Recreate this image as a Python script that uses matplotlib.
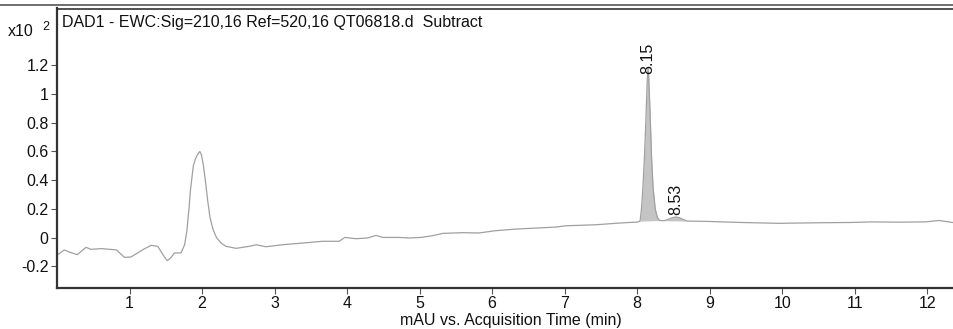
import matplotlib
matplotlib.use("Agg")
import matplotlib.pyplot as plt
import numpy as np
from matplotlib.lines import Line2D

plt.rcParams['font.family'] = ['Liberation Sans', 'DejaVu Sans']

# chromatogram trace (time in min, signal in x10^2 mAU)
time = [0.01, 0.10, 0.17, 0.28, 0.40, 0.47, 0.61, 0.82, 0.93, 1.02, 1.21, 1.30, 1.39,
        1.46, 1.52, 1.57, 1.62, 1.71, 1.76, 1.79, 1.82, 1.84, 1.88, 1.91, 1.94, 1.97,
        1.99, 2.02, 2.05, 2.08, 2.11, 2.15, 2.20, 2.27, 2.33, 2.47, 2.65, 2.75, 2.88,
        3.11, 3.39, 3.66, 3.89, 3.97, 4.12,
        4.28, 4.40, 4.49, 4.72, 4.86, 5.02, 5.18, 5.32, 5.59, 5.82, 6.05, 6.33, 6.60,
        6.88, 7.02, 7.43, 7.70, 7.89, 8.00, 8.04, 8.06, 8.08, 8.10, 8.12, 8.14, 8.15,
        8.16, 8.18, 8.20, 8.22, 8.25, 8.28, 8.31, 8.37, 8.43, 8.48, 8.53, 8.58, 8.63,
        8.69, 8.99, 9.44, 9.95, 10.50, 10.96, 11.23, 11.60, 11.98, 12.16, 12.35]
signal = [-0.118, -0.085, -0.100, -0.118, -0.067, -0.081, -0.076, -0.085, -0.137, -0.134,
          -0.076, -0.053, -0.060, -0.118, -0.160, -0.140, -0.106, -0.106, -0.049, 0.044,
          0.200, 0.330, 0.500, 0.550, 0.580, 0.600, 0.580, 0.500, 0.380, 0.250, 0.140,
          0.060, 0.000, -0.040, -0.060, -0.074, -0.060, -0.049, -0.063,
          -0.049, -0.037, -0.025, -0.025, 0.002, -0.007, -0.002, 0.016,
          0.002, 0.002, -0.002, 0.002, 0.014, 0.030, 0.035, 0.033, 0.049, 0.060, 0.067,
          0.074, 0.083, 0.090, 0.100, 0.106, 0.108, 0.115, 0.200, 0.350, 0.550, 0.800,
          1.100, 1.180, 1.120, 0.850, 0.550, 0.350, 0.200, 0.140, 0.120, 0.118, 0.128,
          0.138, 0.144, 0.140, 0.128, 0.116, 0.113, 0.106, 0.100, 0.104, 0.106, 0.110,
          0.108, 0.110, 0.120, 0.106]

# integrated peaks: (start, end, label time)
peak_starts = [8.03, 8.37]
peak_ends = [8.31, 8.69]
peak_labels = ["8.15", "8.53"]
peak_label_y = [1.14, 0.155]

xticks = [1, 2, 3, 4, 5, 6, 7, 8, 9, 10, 11, 12]
yticks = [-0.2, 0, 0.2, 0.4, 0.6, 0.8, 1, 1.2]
ytick_labels = ["-0.2", "0", "0.2", "0.4", "0.6", "0.8", "1", "1.2"]

FS = 11.5

fig = plt.figure(figsize=(9.54, 3.29), dpi=100)
ax = fig.add_axes([57/954, 41/329, 1 - 57/954, (329 - 41 - 8.5)/329])

t = np.array(time)
s = np.array(signal)
for a, b in zip(peak_starts, peak_ends):
    m = (t >= a - 1e-9) & (t <= b + 1e-9)
    tt = t[m]; ss = s[m]
    base = np.interp([tt[0], tt[-1]], t, s)
    bl = np.interp(tt, [tt[0], tt[-1]], base)
    ax.fill_between(tt, bl, ss, color='#c4c4c4', lw=0, zorder=1)

ax.plot(time, signal, color='#a0a0a0', lw=0.9, zorder=2)

for lab, yv in zip(peak_labels, peak_label_y):
    ax.text(float(lab), yv, lab, rotation=90, ha='center', va='bottom',
            fontsize=FS, color='#111111')

ax.set_xlim(0.0, 12.37)
ax.set_ylim(-0.35, 1.595)
ax.set_xticks(xticks)
ax.set_xticklabels([str(v) for v in xticks])
ax.set_yticks(yticks)
ax.set_yticklabels(ytick_labels)
ax.tick_params(axis='both', direction='out', length=4, width=0.8, color='#555555',
               labelsize=FS, labelcolor='#111111', pad=2)
ax.spines['right'].set_visible(False)
ax.spines['left'].set_linewidth(1.6)
ax.spines['left'].set_color('#333333')
ax.spines['bottom'].set_linewidth(1.6)
ax.spines['bottom'].set_color('#333333')
ax.spines['top'].set_linewidth(1.2)
ax.spines['top'].set_color('#333333')

fig.text(511/954, 1 - 321/329, "mAU vs. Acquisition Time (min)", ha='center', va='center',
         fontsize=FS, color='#111111')

ax.text(0.006, 0.975, "DAD1 - EWC:Sig=210,16 Ref=520,16 QT06818.d  Subtract",
        transform=ax.transAxes, ha='left', va='top', fontsize=FS, color='#111111')

fig.text(8/954, 1 - 36/329, "x10", ha='left', va='baseline', fontsize=FS, color='#111111')
fig.text(42/954, 1 - 30/329, "2", ha='left', va='baseline', fontsize=9, color='#111111')

fig.add_artist(Line2D([0, 1], [1 - 4.5/329, 1 - 4.5/329], transform=fig.transFigure,
                      color='#555555', lw=1.2))

fig.savefig("out.png", dpi=100)
